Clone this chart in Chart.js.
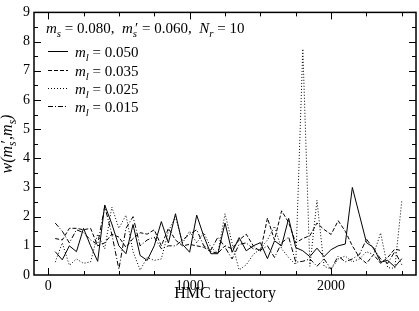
<!DOCTYPE html>
<html>
<head>
<meta charset="utf-8">
<script src="https://cdn.jsdelivr.net/npm/chart.js@4.4.0/dist/chart.umd.min.js"></script>
<style>
  html, body { margin: 0; padding: 0; background: #fff; }
  #wrap { width: 419px; height: 311px; }
</style>
</head>
<body>
<div id="wrap"><canvas id="chart" width="419" height="311"></canvas></div>
<script>
// HMC trajectory, every 50 trajectories
var trajectories = [];
for (var t = 50; t <= 2500; t += 50) trajectories.push(t);

var w_ml050 = [0.80, 0.52, 1.00, 0.80, 1.60, 1.00, 0.47, 2.40, 1.75, 1.00,
               0.73, 1.73, 0.67, 0.50, 1.00, 1.83, 1.10, 2.10, 1.05, 0.78,
               2.05, 1.33, 0.73, 0.73, 1.78, 0.78, 1.28, 0.83, 1.00, 1.11,
               0.56, 1.17, 1.00, 1.94, 0.94, 0.83, 0.63, 0.92, 0.63, 0.87,
               1.00, 1.06, 3.00, 2.06, 1.11, 0.94, 0.44, 0.50, 0.28, 0.56];
var w_ml035 = [1.25, 1.20, 1.60, 1.60, 1.55, 1.60, 1.00, 1.10, 1.40, 1.30,
               0.95, 1.25, 1.45, 1.40, 1.55, 1.00, 1.60, 1.20, 1.00, 1.05,
               1.00, 0.95, 0.80, 0.75, 1.00, 0.90, 1.20, 1.40, 1.00, 0.80,
               1.95, 1.20, 2.20, 1.80, 1.10, 1.25, 1.35, 1.78, 1.56, 1.39,
               1.86, 1.50, 1.00, 0.60, 0.40, 0.70, 0.40, 0.60, 0.89, 0.83];
var w_ml025 = [0.44, 1.10, 0.33, 0.55, 0.40, 0.45, 1.40, 0.90, 2.33, 1.60,
               2.05, 0.80, 0.17, 0.60, 0.50, 0.55, 1.50, 2.00, 1.10, 1.50,
               1.10, 1.45, 0.95, 0.75, 2.10, 1.10, 0.17, 0.35, 0.70, 0.90,
               1.20, 1.67, 0.90, 0.60, 0.35, 7.75, 0.30, 2.56, 0.30, 0.20,
               0.55, 0.65, 0.45, 0.55, 0.80, 0.70, 1.44, 0.25, 0.23, 2.56];
var w_ml015 = [1.78, 1.50, 1.10, 1.55, 1.45, 1.20, 1.05, 2.35, 1.40, 0.20,
               1.60, 2.00, 1.00, 1.20, 1.30, 0.90, 1.00, 1.00, 1.20, 1.40,
               1.55, 1.00, 0.85, 1.30, 0.95, 0.55, 1.05, 1.10, 0.90, 0.85,
               1.00, 0.60, 1.10, 1.30, 0.44, 0.47, 0.55, 0.30, 0.55, 0.20,
               0.65, 0.45, 0.55, 0.70, 1.23, 0.90, 0.55, 0.40, 0.80, 0.35];

var ml_labels = ["0.050", "0.035", "0.025", "0.015"];
var x_ticks = [0, 1000, 2000];
var y_ticks = [0, 1, 2, 3, 4, 5, 6, 7, 8, 9];

var FONT = "'Liberation Serif', 'DejaVu Serif', serif";

function pts(vals) {
	return vals.map(function (v, i) { return { x: trajectories[i], y: v }; });
}

// draw text runs with italic letters and subscripts
function richText(ctx, runs, x, y, size) {
	var cx = x;
	runs.forEach(function (r) {
		var s = r.sub ? size * 0.72 : size;
		ctx.font = (r.it ? 'italic ' : '') + s + 'px ' + FONT;
		var dy = r.sub ? size * 0.28 : 0;
		var dx = r.dx || 0;
		ctx.fillText(r.t, cx + dx, y + dy);
		cx += ctx.measureText(r.t).width + dx;
	});
	return cx;
}

function runsWidth(ctx, runs, size) {
	var w = 0;
	runs.forEach(function (r) {
		var s = r.sub ? size * 0.72 : size;
		ctx.font = (r.it ? 'italic ' : '') + s + 'px ' + FONT;
		w += ctx.measureText(r.t).width + (r.dx || 0);
	});
	return w;
}

var framePlugin = {
	id: 'frame',
	afterDraw: function (chart) {
		var ctx = chart.ctx, a = chart.chartArea;
		var xs = chart.scales.x, ys = chart.scales.y;
		ctx.save();
		ctx.strokeStyle = '#000';
		ctx.fillStyle = '#000';
		ctx.lineWidth = 1.5;
		ctx.strokeRect(a.left, a.top, a.right - a.left, a.bottom - a.top);

		ctx.lineWidth = 1;
		ctx.beginPath();
		for (var v = 0; v <= 2500; v += 250) {
			var px = Math.round(xs.getPixelForValue(v)) + 0.5;
			var len = (v % 1000 === 0) ? 7 : 4;
			ctx.moveTo(px, a.bottom); ctx.lineTo(px, a.bottom - len);
			ctx.moveTo(px, a.top); ctx.lineTo(px, a.top + len);
		}
		for (var k = 0.5; k < 9; k += 0.5) {
			var py = Math.round(ys.getPixelForValue(k)) + 0.5;
			var l2 = (k % 1 === 0) ? 7 : 4;
			ctx.moveTo(a.left, py); ctx.lineTo(a.left + l2, py);
			ctx.moveTo(a.right, py); ctx.lineTo(a.right - l2, py);
		}
		ctx.stroke();

		// header line
		ctx.textBaseline = 'alphabetic';
		ctx.textAlign = 'left';
		richText(ctx, [
			{ t: 'm', it: true }, { t: 's', it: true, sub: true },
			{ t: ' = 0.080,  ' },
			{ t: 'm', it: true }, { t: 's', it: true, sub: true }, { t: '\u2032', dx: -2 },
			{ t: ' = 0.060,  ' },
			{ t: 'N', it: true }, { t: 'r', it: true, sub: true },
			{ t: ' = 10' }
		], a.left + 12, 33, 15);

		// legend
		var rowY = [57, 76, 94, 112];
		chart.data.datasets.forEach(function (ds, i) {
			ctx.save();
			ctx.lineWidth = 1;
			ctx.setLineDash(ds.borderDash || []);
			ctx.beginPath();
			ctx.moveTo(a.left + 14, rowY[i] - 5.5);
			ctx.lineTo(a.left + 34, rowY[i] - 5.5);
			ctx.stroke();
			ctx.restore();
			richText(ctx, [
				{ t: 'm', it: true }, { t: 'l', it: true, sub: true },
				{ t: ' = ' + ml_labels[i] }
			], a.left + 41, rowY[i], 15);
		});

		// x title
		ctx.font = '16px ' + FONT;
		ctx.textAlign = 'center';
		ctx.fillText('HMC trajectory', (a.left + a.right) / 2, 298);

		// y title
		var yr = [
			{ t: 'w', it: true }, { t: '(', it: true },
			{ t: 'm', it: true }, { t: 's', it: true, sub: true }, { t: '\u2032', dx: -2 },
			{ t: ',', it: true },
			{ t: 'm', it: true }, { t: 's', it: true, sub: true },
			{ t: ')', it: true }
		];
		ctx.translate(12, 144);
		ctx.rotate(-Math.PI / 2);
		ctx.textAlign = 'left';
		var w = runsWidth(ctx, yr, 16);
		richText(ctx, yr, -w / 2, 0, 16);
		ctx.restore();
	}
};

var ctx = document.getElementById('chart');
var chart = new Chart(ctx, {
	type: 'line',
	data: {
		datasets: [
			{ data: pts(w_ml050), borderDash: [] },
			{ data: pts(w_ml035), borderDash: [4, 2] },
			{ data: pts(w_ml025), borderDash: [1, 2] },
			{ data: pts(w_ml015), borderDash: [5, 2, 1, 2] }
		].map(function (d) {
			d.borderColor = '#000';
			d.borderWidth = 1;
			d.pointRadius = 0;
			d.tension = 0;
			d.fill = false;
			return d;
		})
	},
	options: {
		responsive: false,
		animation: false,
		events: [],
		layout: { padding: { top: 5, right: 3, left: 0, bottom: 0 } },
		plugins: { legend: { display: false }, tooltip: { enabled: false } },
		scales: {
			x: {
				type: 'linear',
				min: -100, max: 2600,
				grid: { display: false, drawTicks: false },
				border: { display: false },
				afterBuildTicks: function (s) { s.ticks = x_ticks.map(function (v) { return { value: v }; }); },
				afterFit: function (s) { s.height = 36; },
				ticks: {
					color: '#000', padding: 3, maxRotation: 0,
					font: { family: FONT, size: 14 },
					callback: function (v) { return String(v); }
				}
			},
			y: {
				min: 0, max: 9,
				grid: { display: false, drawTicks: false },
				border: { display: false },
				afterBuildTicks: function (s) { s.ticks = y_ticks.map(function (v) { return { value: v }; }); },
				afterFit: function (s) { s.width = 34; },
				ticks: { color: '#000', padding: 4, font: { family: FONT, size: 14 } }
			}
		}
	},
	plugins: [framePlugin]
});
</script>
</body>
</html>
